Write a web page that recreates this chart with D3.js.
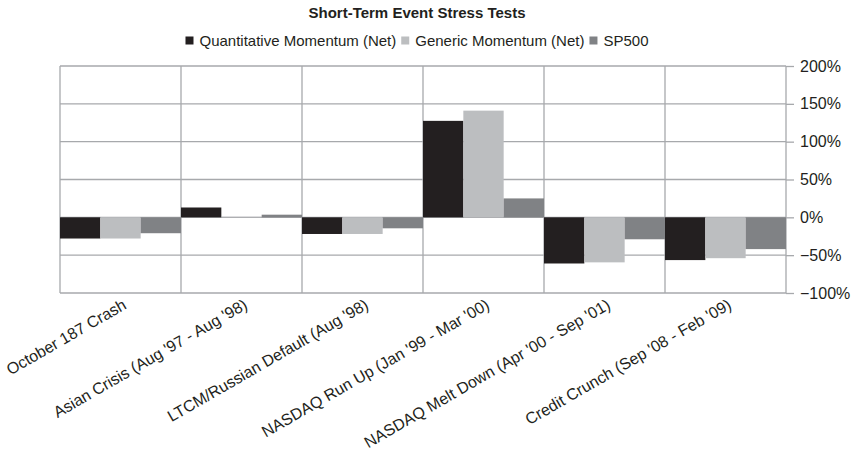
<!DOCTYPE html>
<html>
<head>
<meta charset="utf-8">
<script src="https://cdn.jsdelivr.net/npm/d3@7"></script>
<style>
  html, body { margin: 0; padding: 0; background: #fff; }
  svg { display: block; font-family: "Liberation Sans", Arial, Helvetica, sans-serif; }
</style>
</head>
<body>
<svg id="chart" width="855" height="458"></svg>
<script>
// Event windows and cumulative returns (percent) per strategy
const categories = [
  "October 187 Crash",
  "Asian Crisis (Aug '97 - Aug '98)",
  "LTCM/Russian Default (Aug '98)",
  "NASDAQ Run Up (Jan '99 - Mar '00)",
  "NASDAQ Melt Down (Apr '00 - Sep '01)",
  "Credit Crunch (Sep '08 - Feb '09)"
];
const seriesNames = ["Quantitative Momentum (Net)", "Generic Momentum (Net)", "SP500"];
const quantMomentum = [-28, 13, -22, 127.5, -61, -56.5];
const genericMomentum = [-28, 0.8, -22, 141, -59.5, -54];
const sp500 = [-21, 3.5, -14.5, 25, -29, -42];
const yTicks = [-100, -50, 0, 50, 100, 150, 200];
const seriesColors = ["#231f20", "#bcbec0", "#808285"];

const allSeries = [quantMomentum, genericMomentum, sp500];
const svg = d3.select("#chart");
const plot = { left: 60, right: 786, top: 66, bottom: 293 };
const textColor = "#231f20";
const gridColor = "#a7a9ac";

const x = d3.scaleBand().domain(categories).range([plot.left, plot.right]).padding(0);
const xInner = d3.scaleBand().domain(seriesNames).range([0, x.bandwidth()]).padding(0);
const y = d3.scaleLinear().domain([-100, 200]).range([plot.bottom, plot.top]);

// Horizontal grid lines
svg.append("g")
  .selectAll("line")
  .data(yTicks)
  .join("line")
  .attr("x1", plot.left).attr("x2", plot.right)
  .attr("y1", d => y(d)).attr("y2", d => y(d))
  .attr("stroke", gridColor).attr("stroke-width", 1.3);

// Vertical grid lines at category boundaries
const bounds = categories.map(c => x(c)).concat([plot.right]);
svg.append("g")
  .selectAll("line")
  .data(bounds)
  .join("line")
  .attr("x1", d => d).attr("x2", d => d)
  .attr("y1", plot.top).attr("y2", plot.bottom)
  .attr("stroke", gridColor).attr("stroke-width", 1.3);

// Bars
const rows = categories.map((c, i) => ({
  cat: c,
  values: seriesNames.map((s, j) => ({ series: s, idx: j, value: allSeries[j][i] }))
}));
svg.append("g")
  .selectAll("g")
  .data(rows)
  .join("g")
  .attr("transform", d => `translate(${x(d.cat)},0)`)
  .selectAll("rect")
  .data(d => d.values)
  .join("rect")
  .attr("x", d => xInner(d.series))
  .attr("width", xInner.bandwidth())
  .attr("y", d => y(Math.max(0, d.value)))
  .attr("height", d => Math.abs(y(d.value) - y(0)))
  .attr("fill", d => seriesColors[d.idx]);

// Right-hand value axis
const yAxis = d3.axisRight(y)
  .tickValues(yTicks)
  .tickSize(8)
  .tickPadding(6)
  .tickFormat(d => (d < 0 ? "\u2212" + Math.abs(d) : d) + "%");
const gy = svg.append("g")
  .attr("transform", `translate(${plot.right},0)`)
  .call(yAxis);
gy.select(".domain").remove();
gy.selectAll(".tick line").attr("stroke", gridColor).attr("stroke-width", 1.3);
gy.selectAll(".tick text")
  .attr("fill", textColor)
  .style("font-size", "16px")
  .style("font-family", "'Liberation Sans', Arial, sans-serif");

// Category labels, slanted
svg.append("g")
  .selectAll("text")
  .data(categories)
  .join("text")
  .attr("transform", d => `translate(${x(d) + x.bandwidth() / 2 + 7},${plot.bottom + 15}) rotate(-30)`)
  .attr("text-anchor", "end")
  .attr("fill", textColor)
  .style("font-size", "16px")
  .text(d => d);

// Title
const centerX = 417;
svg.append("text")
  .attr("x", centerX).attr("y", 18)
  .attr("text-anchor", "middle")
  .attr("fill", textColor)
  .style("font-size", "15px")
  .style("font-weight", "bold")
  .text("Short-Term Event Stress Tests");

// Legend
const legend = svg.append("g");
let cursor = 0;
seriesNames.forEach((name, i) => {
  const item = legend.append("g").attr("transform", `translate(${cursor},0)`);
  item.append("rect")
    .attr("x", 0).attr("y", -9.5)
    .attr("width", 8).attr("height", 8)
    .attr("fill", seriesColors[i]);
  const t = item.append("text")
    .attr("x", 14).attr("y", 0)
    .attr("fill", textColor)
    .style("font-size", "15px")
    .text(name);
  cursor += 14 + t.node().getComputedTextLength() + 5;
});
const legendWidth = cursor - 5;
legend.attr("transform", `translate(${centerX - legendWidth / 2},46)`);
</script>
</body>
</html>
